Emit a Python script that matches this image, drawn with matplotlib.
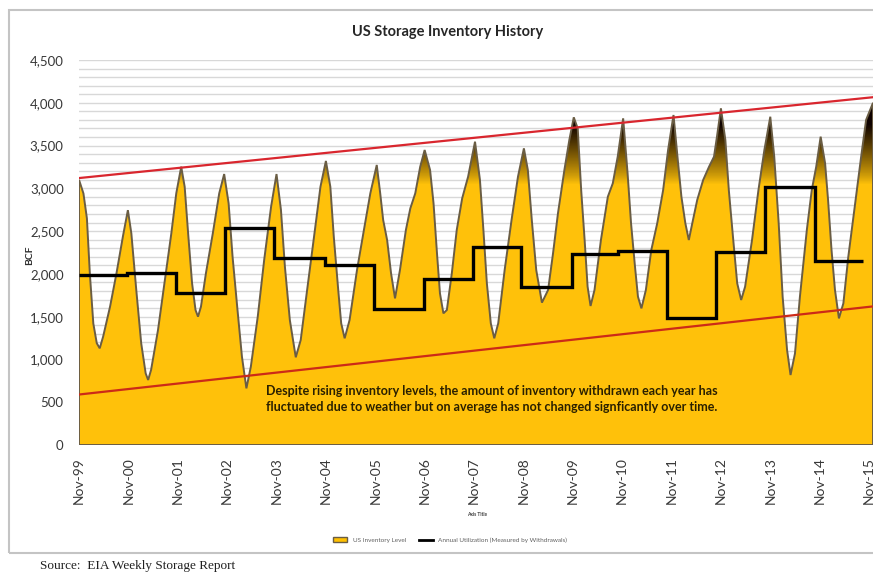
import matplotlib.pyplot as plt
import numpy as np
from matplotlib.patches import Polygon, Rectangle
from matplotlib.lines import Line2D
from matplotlib.ticker import FuncFormatter

plt.rcParams['font.family'] = ['Lato', 'DejaVu Sans']

# weekly storage level, years after Nov-99 vs BCF
yrs = [0.00, 0.09, 0.16, 0.22, 0.29, 0.36, 0.42, 0.49, 0.63, 0.76, 0.89, 0.99,
       1.06, 1.16, 1.26, 1.35, 1.40, 1.46, 1.60, 1.73, 1.87, 1.97, 2.07,
       2.14, 2.21, 2.29, 2.36, 2.41, 2.47, 2.57, 2.71, 2.84, 2.94,
       3.03, 3.11, 3.21, 3.30, 3.39, 3.48, 3.62, 3.75, 3.89, 4.00,
       4.09, 4.17, 4.27, 4.39, 4.49, 4.62, 4.76, 4.89, 5.00,
       5.09, 5.16, 5.25, 5.31, 5.38, 5.48, 5.63, 5.77, 5.90, 6.03,
       6.10, 6.16, 6.24, 6.32, 6.40, 6.50, 6.62, 6.71, 6.81, 6.91, 7.00,
       7.11, 7.18, 7.25, 7.31, 7.38, 7.45, 7.55, 7.65, 7.76, 7.88, 8.02,
       8.12, 8.19, 8.26, 8.34, 8.41, 8.49, 8.62, 8.76, 8.89, 9.01,
       9.09, 9.17, 9.26, 9.375, 9.50, 9.60, 9.70, 9.83, 9.93, 10.02,
       10.10, 10.17, 10.24, 10.30, 10.36, 10.44, 10.57, 10.71, 10.81, 10.91, 11.02,
       11.11, 11.18, 11.26, 11.32, 11.39, 11.48, 11.59, 11.71, 11.83, 11.93, 12.04,
       12.12, 12.20, 12.28, 12.35, 12.42, 12.52, 12.64, 12.76, 12.86, 12.92, 13.00,
       13.09, 13.16, 13.25, 13.33, 13.41, 13.49, 13.63, 13.76, 13.88, 14.00,
       14.08, 14.17, 14.25, 14.34, 14.41, 14.50, 14.60, 14.74, 14.84, 14.93, 15.02,
       15.11, 15.17, 15.24, 15.31, 15.39, 15.48, 15.58, 15.71, 15.84, 15.94, 16.08]
storage = [3100, 2940, 2650, 2000, 1420, 1190, 1130, 1270, 1620, 2010, 2440, 2745,
           2474, 1812, 1188, 838, 760, 878, 1344, 1890, 2474, 2942, 3253,
           3019, 2474, 1890, 1578, 1500, 1617, 2006, 2474, 2942, 3167,
           2825, 2201, 1578, 1032, 662, 915, 1500, 2162, 2785, 3167,
           2747, 2084, 1461, 1025, 1227, 1812, 2435, 3019, 3320,
           3019, 2435, 1812, 1422, 1247, 1461, 2045, 2513, 2942, 3273,
           2942, 2630, 2396, 2006, 1714, 2045, 2513, 2766, 2942, 3253, 3448,
           3214, 2825, 2240, 1773, 1539, 1578, 2006, 2513, 2883, 3136, 3545,
           3097, 2513, 1890, 1422, 1247, 1422, 2045, 2630, 3136, 3467,
           3214, 2630, 2045, 1664, 1812, 2240, 2708, 3214, 3565, 3830,
           3700, 2980, 2396, 1851, 1625, 1812, 2396, 2902, 3058, 3370, 3818,
           3175, 2591, 2084, 1734, 1597, 1812, 2279, 2591, 2980, 3448, 3857,
           3370, 2902, 2591, 2396, 2591, 2864, 3097, 3253, 3370, 3604, 3935,
           3565, 2980, 2396, 1890, 1695, 1851, 2396, 2980, 3448, 3837,
           3370, 2591, 1734, 1110, 818, 1071, 1734, 2513, 2980, 3253, 3604,
           3292, 2864, 2279, 1812, 1480, 1656, 2201, 2785, 3370, 3799, 4000]

# annual withdrawals, one level per storage year
step_edges = [0, 0.98, 1.97, 2.96, 3.95, 4.98, 5.98, 6.98, 7.98, 8.95,
              9.98, 10.92, 11.9, 12.9, 13.9, 14.9, 15.88]
withdrawals = [1990, 2015, 1775, 2540, 2185, 2105, 1590, 1945, 2320, 1850,
               2235, 2265, 1490, 2260, 3020, 2155]

# trend channel end points
trend_x = [0, 16.08]
upper_trend = [3120, 4065]
lower_trend = [590, 1620]

tick_labels = ['Nov-99', 'Nov-00', 'Nov-01', 'Nov-02', 'Nov-03', 'Nov-04',
               'Nov-05', 'Nov-06', 'Nov-07', 'Nov-08', 'Nov-09', 'Nov-10',
               'Nov-11', 'Nov-12', 'Nov-13', 'Nov-14', 'Nov-15']

gold = np.array([1.0, 0.76, 0.04])
dark = np.array([0.06, 0.01, 0.0])

fig = plt.figure(figsize=(8.73, 5.76), dpi=100)
ax = fig.add_axes([79 / 873, 131 / 576, 794 / 873, 385 / 576])

# outer chart frame
fig.patches.append(Rectangle((9 / 873, 23 / 576), 1.2, 543 / 576, transform=fig.transFigure,
                             facecolor='none', edgecolor='#c4c4c4', lw=1.5))

for g in range(100, 4501, 100):
    ax.axhline(g, color='#d8d8d8', lw=1.0, zorder=0)

verts = list(zip(yrs, storage)) + [(16.08, 0), (0, 0)]
area = Polygon(verts, closed=True, facecolor='none', edgecolor='#6a5d44', lw=1.4, zorder=3)
ax.add_patch(area)

# gold fill darkening toward the peaks
lev = np.linspace(0, 4500, 900)
frac = np.clip((lev - 3050) / 700, 0, 1) ** 0.85
cols = gold[None, :] * (1 - frac[:, None]) + dark[None, :] * frac[:, None]
img = ax.imshow(cols[:, None, :], extent=[0, 16.08, 0, 4500], origin='lower',
                aspect='auto', zorder=2, interpolation='nearest')
img.set_clip_path(area)

ax.plot(trend_x, upper_trend, color='#d9262e', lw=1.6, zorder=4)
ax.plot(trend_x, lower_trend, color='#cc2a18', lw=1.6, zorder=4)

ax.stairs(withdrawals, step_edges, baseline=None, color='black', lw=2.4, zorder=5)

ax.text(3.78, 700, 'Despite rising inventory levels, the amount of inventory withdrawn each year has\n'
        'fluctuated due to weather but on average has not changed signficantly over time.',
        fontsize=9, fontweight='bold', color='#2a2000', ha='left', va='top',
        linespacing=1.35, zorder=6)

ax.set_xlim(0, 16.08)
ax.set_ylim(0, 4500)
ax.set_yticks(range(0, 4501, 500))
ax.yaxis.set_major_formatter(FuncFormatter(lambda v, p: f'{int(v):,}'))
ax.set_xticks(range(17))
ax.set_xticklabels(tick_labels, rotation=90)
ax.tick_params(length=0, labelcolor='#383838')
ax.tick_params(axis='y', pad=11, labelsize=9.5)
ax.tick_params(axis='x', pad=9, labelsize=10)
for s in ax.spines.values():
    s.set_visible(False)

fig.text(30 / 873, 1 - 255 / 576, 'BCF', rotation=90, ha='center', va='center',
         fontsize=7.5, fontweight='bold', color='#303030')
fig.text(448 / 873, 1 - 32 / 576, 'US Storage Inventory History', ha='center', va='center',
         fontsize=10.5, fontweight='bold', color='#262626')
fig.text(477 / 873, 1 - 515 / 576, 'Axis Title', ha='center', va='center', fontsize=3.5,
         fontweight='bold', color='#404040')

handles = [Polygon([[0, 0]], facecolor='#ffc000', edgecolor='#6a5d44', lw=1.0),
           Line2D([], [], color='black', lw=2.0)]
fig.legend(handles, ['US Inventory Level', 'Annual Utilization (Measured by Withdrawals)'],
           loc='center', bbox_to_anchor=(450 / 873, 1 - 540 / 576), ncol=2, frameon=False,
           fontsize=4.6, handlelength=2.2, handleheight=0.9, columnspacing=2.0, labelcolor='#606060')

fig.text(40 / 873, 1 - 566 / 576, 'Source:  EIA Weekly Storage Report', ha='left', va='center',
         fontsize=9.5, family='Liberation Serif', color='#202020')

fig.savefig('out.png', dpi=100)
